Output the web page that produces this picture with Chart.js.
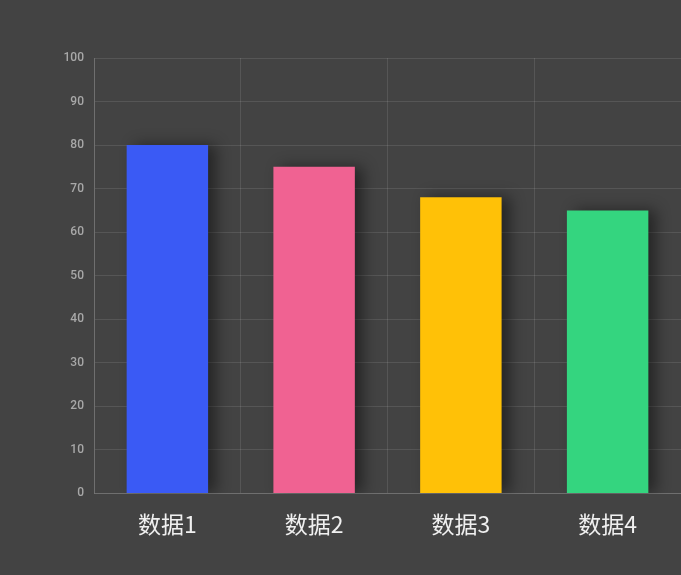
<!DOCTYPE html>
<html>
<head>
<meta charset="utf-8">
<script src="https://cdn.jsdelivr.net/npm/chart.js@4/dist/chart.umd.min.js"></script>
<style>
  html, body { margin: 0; padding: 0; background: #434343; }
  #wrap { width: 681px; height: 575px; position: relative; }
</style>
</head>
<body>
<div id="wrap"><canvas id="c" width="681" height="575"></canvas></div>
<script>
const categories = ['数据1', '数据2', '数据3', '数据4'];
const values = [80, 75, 68, 65];
const barColors = ['#3a5af5', '#f06292', '#ffc107', '#34d57f'];
const yTicks = [0, 10, 20, 30, 40, 50, 60, 70, 80, 90, 100];

const shadowPlugin = {
  id: 'barShadow',
  beforeDatasetsDraw(chart) {
    const ctx = chart.ctx;
    ctx.save();
    ctx.shadowColor = 'rgba(0,0,0,0.45)';
    ctx.shadowBlur = 14;
    ctx.shadowOffsetX = 8;
    ctx.shadowOffsetY = 0;
  },
  afterDatasetsDraw(chart) {
    chart.ctx.restore();
  }
};

new Chart(document.getElementById('c'), {
  type: 'bar',
  data: {
    labels: categories,
    datasets: [{
      data: values,
      backgroundColor: barColors,
      borderWidth: 0,
      categoryPercentage: 1,
      barPercentage: 0.555
    }]
  },
  options: {
    responsive: false,
    animation: false,
    devicePixelRatio: 1,
    layout: { padding: { top: 58, right: -2, left: 0, bottom: 20 } },
    plugins: { legend: { display: false }, tooltip: { enabled: false } },
    scales: {
      x: {
        grid: { color: 'rgba(255,255,255,0.1)', drawTicks: false, offset: true },
        border: { color: 'rgba(255,255,255,0.15)' },
        ticks: {
          color: '#f0f0f0',
          font: { family: '"Noto Sans CJK SC", sans-serif', size: 23 },
          padding: 17
        }
      },
      y: {
        min: 0, max: 100,
        afterBuildTicks(axis) { axis.ticks = yTicks.map(v => ({ value: v })); },
        grid: { color: 'rgba(255,255,255,0.1)', drawTicks: false },
        border: { color: 'rgba(255,255,255,0.15)' },
        ticks: {
          color: '#a8a8a8',
          font: { family: 'Roboto, sans-serif', size: 12, weight: '500' },
          padding: 10
        },
        afterFit(axis) { axis.width = 94; }
      }
    }
  },
  plugins: [shadowPlugin]
});
</script>
</body>
</html>
